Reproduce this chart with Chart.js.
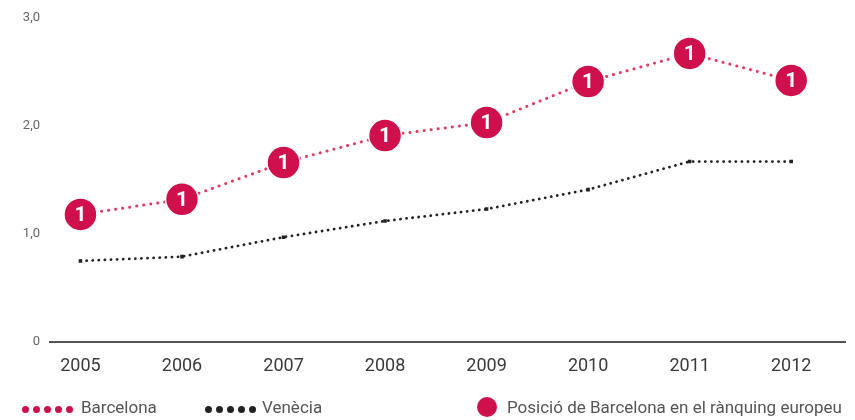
<!DOCTYPE html>
<html>
<head>
<meta charset="utf-8">
<script src="https://cdn.jsdelivr.net/npm/chart.js@4"></script>
<style>
  body { margin: 0; background: #fff; font-family: Roboto, sans-serif; }
  #wrap { position: relative; width: 855px; height: 420px; }
  .leg { position: absolute; top: 397px; font-size: 17px; color: #555; display: flex; align-items: center; }
  .dot { display: inline-block; width: 7px; height: 7px; border-radius: 50%; margin-right: 4px; }
  .big { display: inline-block; width: 20px; height: 20px; border-radius: 50%; background: #d0104c; margin-right: 10px; }
</style>
</head>
<body>
<div id="wrap">
  <canvas id="chart" width="855" height="420"></canvas>
  <div class="leg" style="left:22px"><span id="bcnDots"></span><span style="margin-left:4px">Barcelona</span></div>
  <div class="leg" style="left:205px"><span id="venDots"></span><span style="margin-left:2px">Venècia</span></div>
  <div class="leg" style="left:477px"><span class="big"></span><span>Posició de Barcelona en el rànquing europeu</span></div>
</div>
<script>
const years = [2005, 2006, 2007, 2008, 2009, 2010, 2011, 2012];
const barcelona = [1.18, 1.32, 1.66, 1.91, 2.03, 2.41, 2.67, 2.42];
const venecia = [0.75, 0.79, 0.97, 1.12, 1.23, 1.41, 1.67, 1.67];
const ranking = [1, 1, 1, 1, 1, 1, 1, 1];
const yTicks = ['0', '1,0', '2,0', '3,0'];

const red = '#d0104c';

function dots(id, color) {
    let html = '';
    for (let i = 0; i < 5; i++) html += `<span class="dot" style="background:${color}"></span>`;
    document.getElementById(id).innerHTML = html;
}
dots('bcnDots', red);
dots('venDots', '#222');

// writes the ranking number inside each Barcelona marker
const rankLabels = {
    id: 'rankLabels',
    afterDatasetsDraw(chart) {
        const ctx = chart.ctx;
        const meta = chart.getDatasetMeta(1);
        ctx.save();
        ctx.fillStyle = '#fff';
        ctx.font = 'bold 21px Roboto';
        ctx.textAlign = 'center';
        ctx.textBaseline = 'middle';
        meta.data.forEach((pt, i) => {
            ctx.fillText(String(ranking[i]), pt.x, pt.y + 1);
        });
        ctx.restore();
    }
};

new Chart(document.getElementById('chart'), {
    type: 'line',
    data: {
        datasets: [{
            label: 'Venècia',
            data: years.map((y, i) => ({ x: y, y: venecia[i] })),
            borderColor: '#222',
            borderWidth: 2.8,
            borderDash: [0.1, 6],
            borderCapStyle: 'round',
            pointStyle: 'rect',
            pointRadius: 2.5,
            pointBackgroundColor: '#222',
            pointBorderWidth: 0,
            tension: 0
        }, {
            label: 'Barcelona',
            data: years.map((y, i) => ({ x: y, y: barcelona[i] })),
            borderColor: '#e8385f',
            borderWidth: 3,
            borderDash: [0.1, 7],
            borderCapStyle: 'round',
            pointRadius: 16.5,
            pointBackgroundColor: red,
            pointBorderColor: '#fff',
            pointBorderWidth: 1.5,
            tension: 0
        }]
    },
    options: {
        responsive: false,
        animation: false,
        layout: { autoPadding: false, padding: { top: 16, right: 10, bottom: 38, left: 0 } },
        plugins: { legend: { display: false }, tooltip: { enabled: false } },
        scales: {
            x: {
                type: 'linear',
                min: 2004.7,
                max: 2012.53,
                grid: { display: false, drawTicks: false },
                border: { display: true, color: '#555', width: 2 },
                ticks: {
                    stepSize: 1,
                    includeBounds: false,
                    padding: 14,
                    color: '#3a3a3a',
                    font: { family: 'Roboto', size: 18 },
                    callback: v => years.includes(v) ? String(v) : ''
                },
                afterFit: s => { s.height = 40; s.paddingLeft = 0; s.paddingRight = 0; }
            },
            y: {
                min: 0,
                max: 3,
                grid: { display: false, drawTicks: false },
                border: { display: false },
                ticks: {
                    stepSize: 1,
                    padding: 10,
                    color: '#666',
                    font: { family: 'Roboto', size: 13 },
                    callback: v => yTicks[v]
                },
                afterFit: s => { s.width = 50; }
            }
        }
    },
    plugins: [rankLabels]
});
</script>
</body>
</html>
